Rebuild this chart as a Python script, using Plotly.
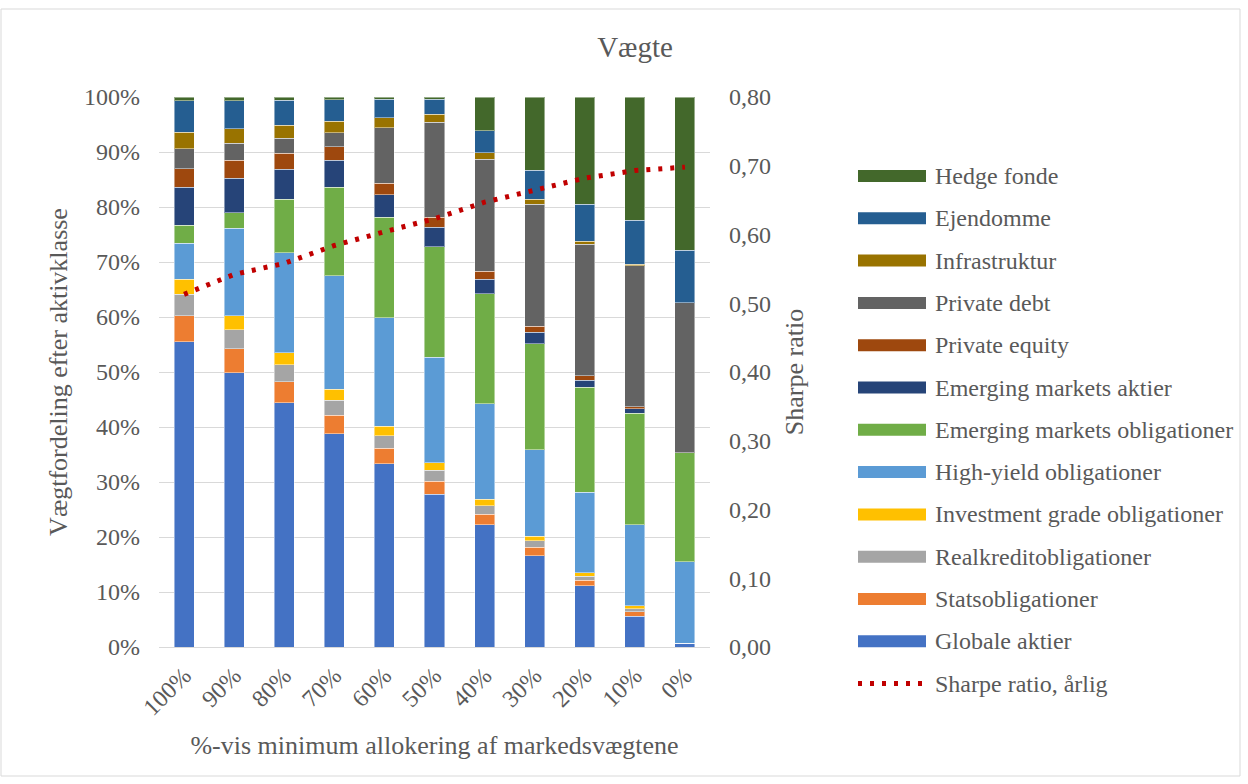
import plotly.graph_objects as go

# Kategorier: minimum allokering af markedsvægtene
categories = ["100%", "90%", "80%", "70%", "60%", "50%", "40%", "30%", "20%", "10%", "0%"]

# Vægte pr. aktivklasse (procent)
globale_aktier = [55.5, 49.9, 44.4, 38.8, 33.3, 27.8, 22.2, 16.6, 11.1, 5.6, 0.7]
statsobligationer = [4.7, 4.3, 3.8, 3.3, 2.8, 2.3, 1.9, 1.5, 1.0, 0.8, 0.0]
realkreditobligationer = [3.9, 3.5, 3.1, 2.8, 2.3, 2.0, 1.6, 1.2, 0.8, 0.6, 0.0]
investment_grade = [2.8, 2.5, 2.2, 2.0, 1.7, 1.4, 1.2, 0.8, 0.6, 0.5, 0.0]
high_yield = [6.5, 15.9, 18.2, 20.6, 19.8, 19.2, 17.3, 15.8, 14.6, 14.7, 14.8]
em_obligationer = [3.3, 2.9, 9.7, 16.1, 18.2, 20.1, 20.0, 19.2, 19.1, 20.3, 19.8]
em_aktier = [6.9, 6.2, 5.5, 4.9, 4.1, 3.5, 2.7, 2.1, 1.3, 0.8, 0.0]
private_equity = [3.4, 3.3, 2.9, 2.5, 2.1, 1.8, 1.4, 1.1, 0.8, 0.4, 0.0]
private_debt = [3.6, 3.1, 2.7, 2.5, 10.1, 17.3, 20.4, 22.2, 23.9, 25.6, 27.3]
infrastruktur = [3.0, 2.6, 2.4, 2.1, 1.8, 1.5, 1.2, 0.9, 0.6, 0.3, 0.0]
ejendomme = [5.7, 5.1, 4.5, 3.9, 3.4, 2.7, 4.0, 5.3, 6.7, 8.0, 9.5]
hedge_fonde = [0.7, 0.7, 0.6, 0.5, 0.4, 0.4, 6.1, 13.3, 19.5, 22.4, 27.9]

# Årlig Sharpe ratio
sharpe_ratio = [0.513, 0.542, 0.558, 0.584, 0.604, 0.623, 0.647, 0.665, 0.682, 0.693, 0.698]

series = [
    ("Globale aktier", globale_aktier, "#4472C4"),
    ("Statsobligationer", statsobligationer, "#ED7D31"),
    ("Realkreditobligationer", realkreditobligationer, "#A5A5A5"),
    ("Investment grade obligationer", investment_grade, "#FFC000"),
    ("High-yield obligationer", high_yield, "#5B9BD5"),
    ("Emerging markets obligationer", em_obligationer, "#70AD47"),
    ("Emerging markets aktier", em_aktier, "#264478"),
    ("Private equity", private_equity, "#9E480E"),
    ("Private debt", private_debt, "#636363"),
    ("Infrastruktur", infrastruktur, "#997300"),
    ("Ejendomme", ejendomme, "#255E91"),
    ("Hedge fonde", hedge_fonde, "#43682B"),
]

FONT = "Liberation Serif, Times New Roman, serif"
GREY = "#595959"
LINE_RED = "#C00000"
DOTS = "4px,8px"

fig = go.Figure()
for name, vals, col in series:
    fig.add_trace(go.Bar(
        x=categories, y=vals, name=name,
        marker=dict(color=col, line=dict(color="rgba(255,255,255,0.45)", width=1)),
        showlegend=False,
    ))

fig.add_trace(go.Scatter(
    x=categories, y=sharpe_ratio, name="Sharpe ratio, årlig", yaxis="y2",
    mode="lines", line=dict(color=LINE_RED, width=5, dash=DOTS),
    showlegend=False,
))

# Plot area in pixels
L, R, T, B = 159, 710, 97, 647
W, H = 1248, 784
PW, PH = R - L, B - T


def px(x):
    return (x - L) / PW


def py(y):
    return (B - y) / PH


shapes = []
annotations = []

# Legend: bar classes top-down in reverse stacking order, then the line
legend_items = [(n, c, "bar") for n, _, c in reversed(series)] + [("Sharpe ratio, årlig", LINE_RED, "line")]
y0, step = 176.0, 42.3
for i, (name, col, kind) in enumerate(legend_items):
    yc = y0 + i * step
    if kind == "bar":
        shapes.append(dict(type="rect", xref="paper", yref="paper",
                           x0=px(858), x1=px(926), y0=py(yc + 6), y1=py(yc - 6),
                           fillcolor=col, line=dict(width=0)))
    else:
        shapes.append(dict(type="line", xref="paper", yref="paper",
                           x0=px(858), x1=px(926), y0=py(yc), y1=py(yc),
                           line=dict(color=col, width=5, dash=DOTS)))
    annotations.append(dict(text=name, xref="paper", yref="paper", x=px(933), y=py(yc),
                            xanchor="left", yanchor="middle", showarrow=False,
                            font=dict(family=FONT, size=24, color=GREY)))

# Chart border
shapes.append(dict(type="rect", xref="paper", yref="paper",
                   x0=px(1), x1=px(1240), y0=py(776), y1=py(9),
                   line=dict(color="#D9D9D9", width=1), fillcolor="rgba(0,0,0,0)", layer="below"))

fig.update_layout(
    width=W, height=H,
    margin=dict(l=L, r=W - R, t=T, b=H - B, autoexpand=False),
    paper_bgcolor="white", plot_bgcolor="white",
    barmode="stack", bargap=0.6,
    separators=",.",
    showlegend=False,
    font=dict(family=FONT, size=24, color=GREY),
    title=dict(text="Vægte", x=635 / W, xref="container",
               y=1 - 47 / H, yref="container", xanchor="center", yanchor="middle",
               font=dict(family=FONT, size=29, color=GREY)),
    xaxis=dict(
        type="category", tickangle=-45, showgrid=False,
        showline=True, linecolor="#D9D9D9", linewidth=1,
        ticks="", ticklabelstandoff=4, tickfont=dict(family=FONT, size=24, color=GREY),
        title=dict(text="%-vis minimum allokering af markedsvægtene", standoff=16,
                   font=dict(family=FONT, size=26, color=GREY)),
    ),
    yaxis=dict(
        range=[0, 100], dtick=10, ticksuffix="%",
        showgrid=True, gridcolor="#D9D9D9", gridwidth=1, zeroline=False,
        ticks="", ticklabelstandoff=18,
        tickfont=dict(family=FONT, size=24, color=GREY),
        title=dict(text="Vægtfordeling efter aktivklasse", standoff=8,
                   font=dict(family=FONT, size=26, color=GREY)),
    ),
    yaxis2=dict(
        overlaying="y", side="right", range=[0, 0.8], dtick=0.1, tickformat=".2f",
        showgrid=False, zeroline=False, ticks="", ticklabelstandoff=18,
        tickfont=dict(family=FONT, size=24, color=GREY),
        title=dict(text="Sharpe ratio", standoff=14,
                   font=dict(family=FONT, size=26, color=GREY)),
    ),
    shapes=shapes,
    annotations=annotations,
)

fig.write_html("out.html")
